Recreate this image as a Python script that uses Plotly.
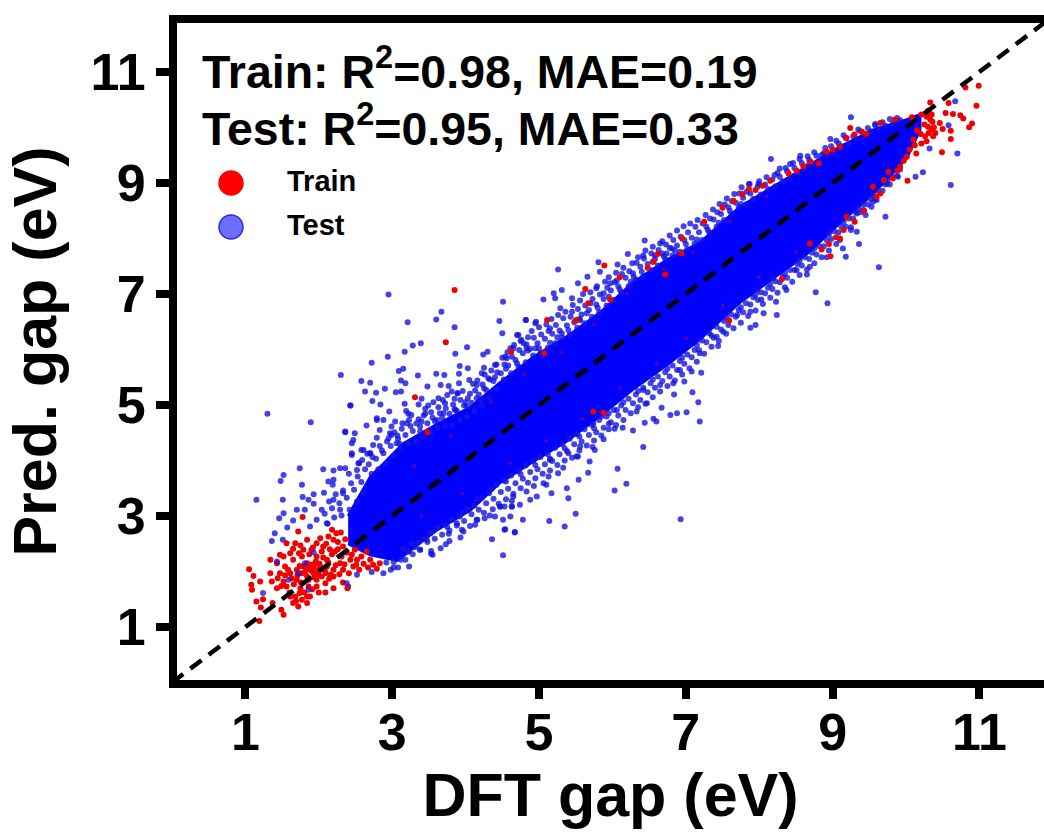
import plotly.graph_objects as go

core_x = [2.40,2.70,3.15,3.61,4.06,4.47,4.92,5.38,5.83,6.28,6.74,7.19,7.74,8.19,8.65,9.10,9.55,10.01,10.19,
          10.19,10.01,9.55,9.10,8.65,8.19,7.74,7.19,6.74,6.28,5.83,5.38,4.92,4.47,4.06,3.61,3.07,2.70,2.40]
core_y = [3.00,3.70,4.30,4.65,4.95,5.40,5.86,6.23,6.66,7.20,7.61,7.92,8.57,8.93,9.29,9.65,9.95,10.14,10.23,
          9.95,9.45,8.80,8.28,7.72,7.28,6.85,6.18,5.72,5.28,4.80,4.35,3.98,3.60,3.10,2.75,2.20,2.30,2.50]

# Individually visible outliers
test_x = [2.95,5.26,3.67,3.21,3.60,3.85,4.51,4.46,4.50,5.06,5.31,5.20,5.53,4.82,4.95,3.39,3.28,3.17,2.94,2.72,3.86,4.02,4.24,4.30,2.30,2.58,2.70,2.63,2.78,2.90,3.09,3.15,3.35,3.60,3.71,3.92,4.03,3.91,4.25,4.22,4.42,4.56,4.65,4.72,4.76,4.83,3.12,3.18,3.48,3.66,3.77,3.91,4.05,4.15,4.31,3.05,3.12,2.73,2.84,2.43,3.40,3.63,3.81,3.89,3.17,3.36,2.96,2.79,2.88,3.22,3.45,3.72,3.86,4.02,4.20,2.36,2.49,2.65,2.47,2.58,2.70,2.83,2.99,3.20,3.38,3.61,2.54,2.36,2.45,
          1.30,1.89,2.43,2.36,2.45,2.45,2.61,2.70,2.97,2.79,3.06,1.74,1.52,1.48,1.77,2.06,2.20,2.29,2.52,2.13,2.20,1.15,1.51,1.78,1.93,2.07,1.86,1.93,1.52,1.46,1.70,1.81,2.04,2.20,2.33,1.65,1.57,1.40,1.36,1.51,1.88,1.97,2.11,2.29,
          4.36,4.51,4.67,4.53,4.15,4.26,4.40,4.51,4.47,4.63,3.95,3.77,3.53,3.38,3.22,3.02,2.72,2.52,2.40,3.88,3.47,3.26,
          5.81,6.07,6.21,5.66,5.79,6.06,5.83,6.42,6.58,6.65,6.44,5.22,5.45,5.29,5.45,4.82,4.96,5.15,5.31,4.70,4.61,4.54,4.95,4.79,5.56,5.70,5.88,5.97,6.29,6.24,6.74,6.81,
          7.19,7.17,7.09,7.01,6.88,6.79,6.67,6.84,6.98,7.08,7.21,6.56,6.60,6.44,6.28,6.14,6.03,5.95,5.88,6.42,6.07,5.67,5.54,6.03,6.19,5.69,5.76,5.56,5.38,5.40,5.50,5.35,5.14,6.93,4.78,4.67,4.54,4.61,4.74,4.88,4.97,5.17,5.10,5.26,4.63,4.65,4.47,6.33,6.47,6.42,6.65,6.83,6.92,7.19,7.44,7.42,7.51,7.70,7.88,7.95,8.06,8.24,8.23,8.03,8.37,7.88,6.06,5.85,5.74,5.51,5.40,5.15,5.06,
          9.25,8.97,8.16,8.56,8.42,8.28,8.21,7.99,7.87,8.67,8.85,9.58,10.67,10.70,10.61,10.23,10.13,10.32,10.58,9.63,9.72,9.74,9.89,9.60,9.53,9.33,9.25,9.36,9.18,9.14,9.10,8.92,8.93,8.77,8.65,8.51,8.69,8.19,7.97,9.33,9.42,9.55]
test_y = [6.99,7.44,6.68,6.49,6.54,6.40,6.86,6.51,6.29,6.90,7.07,7.01,7.19,6.53,6.47,6.11,6.07,5.96,5.87,5.76,5.92,6.04,5.91,5.96,5.54,5.43,5.40,5.24,5.22,5.29,5.61,5.65,5.53,5.56,5.54,5.70,5.66,5.56,5.67,5.57,5.73,5.84,6.02,6.26,6.17,6.02,5.44,5.39,5.33,5.36,5.34,5.39,5.45,5.36,5.48,5.23,5.24,5.07,5.01,4.99,5.11,5.12,5.24,5.21,5.02,5.01,4.88,4.76,4.73,4.84,4.84,5.03,4.91,4.97,5.09,4.52,4.49,4.63,4.37,4.19,4.13,4.55,4.46,4.67,4.52,4.73,3.95,3.86,4.10,
          4.84,4.69,4.99,4.51,4.31,4.13,4.19,4.13,4.49,4.73,4.31,3.86,3.74,3.63,3.56,3.84,3.82,3.86,3.83,3.62,3.65,3.29,3.29,3.34,3.39,3.42,3.29,3.22,3.05,2.96,3.11,3.11,3.11,3.29,3.41,2.92,2.79,2.69,2.55,2.57,2.81,2.93,2.87,3.11,
          2.58,2.29,2.71,2.75,2.93,2.96,2.99,2.93,3.17,3.17,2.75,2.68,2.32,2.39,2.36,2.07,1.99,1.94,1.73,2.87,2.57,2.51,
          7.57,7.53,7.72,7.31,7.14,7.24,7.40,7.69,7.69,7.91,7.96,6.92,6.92,6.74,6.68,6.53,6.50,6.38,6.29,6.26,6.02,5.87,6.02,6.11,6.53,6.83,7.01,7.19,7.31,7.13,7.73,7.82,
          4.70,5.05,5.23,4.87,4.85,4.82,4.95,5.19,5.42,5.60,5.58,4.75,4.70,4.68,4.54,4.59,4.57,4.66,4.38,4.24,3.85,3.78,3.65,3.46,3.58,3.98,4.19,4.25,3.50,3.32,3.04,2.81,2.91,2.94,2.93,2.70,2.76,2.99,3.20,3.29,3.35,3.41,3.56,3.77,3.17,3.35,3.17,4.88,5.03,5.27,5.36,5.39,5.63,5.93,6.06,6.23,6.32,6.62,6.39,6.44,6.65,6.62,6.86,6.90,7.07,6.68,4.91,4.79,4.67,4.07,4.13,4.01,3.59,
          10.18,9.79,9.43,9.49,9.34,9.26,9.14,8.98,8.98,9.32,9.50,10.04,10.47,9.53,8.96,9.19,9.11,9.62,10.04,7.48,8.39,8.99,9.11,8.69,8.57,8.12,8.20,7.90,7.67,7.82,7.97,7.66,6.83,7.03,7.35,7.43,7.49,7.28,7.07,8.45,8.51,8.66]

# Estimated points of the crowded halo just above the core
halo_upper = [(2.12,2.86),(2.08,3.04),(2.14,3.26),(2.21,2.97),(2.18,3.14),(2.23,3.39),(2.19,3.56),(2.31,3.01),(2.28,3.23),(2.33,3.46),(2.42,3.11),(2.38,3.33),(2.44,3.59),(2.41,3.76),(2.52,3.26),(2.48,3.47),(2.53,3.71),(2.61,3.43),(2.58,3.61),(2.63,3.84),(2.59,4.01),(2.72,3.76),(2.68,3.93),(2.73,4.06),(2.81,3.84),(2.78,4.03),(2.83,4.26),(2.79,4.41),(2.92,3.94),(2.88,4.13),(2.93,4.34),(3.02,4.09),(2.98,4.26),(3.03,4.51),(2.99,4.61),(3.12,4.21),(3.08,4.39),(3.13,4.57),(3.22,4.31),(3.18,4.46),(3.23,4.73),(3.19,4.89),(3.32,4.34),(3.28,4.53),(3.33,4.67),(3.42,4.43),(3.38,4.61),(3.43,4.81),(3.52,4.49),(3.48,4.67),(3.53,4.87),(3.49,4.99),(3.62,4.59),(3.58,4.71),(3.63,4.96),(3.72,4.61),(3.68,4.77),(3.73,4.94),(3.69,5.09),(3.82,4.64),(3.78,4.84),(3.83,5.01),(3.92,4.73),(3.88,4.89),(3.93,5.09),(3.89,5.21),(4.02,4.79),(3.98,4.99),(4.03,5.12),(4.12,4.89),(4.08,5.04),(4.13,5.26),(4.22,4.99),(4.18,5.19),(4.23,5.37),(4.32,5.13),(4.28,5.27),(4.33,5.46),(4.42,5.29),(4.38,5.43),(4.43,5.59),(4.52,5.46),(4.48,5.57),(4.53,5.73),(4.62,5.57),(4.58,5.71),(4.63,5.87),(4.72,5.69),(4.68,5.81),(4.73,5.99),(4.82,5.77),(4.78,5.93),(4.83,6.09),(4.92,5.89),(4.88,6.01),(4.93,6.21),(5.02,5.94),(4.98,6.11),(5.03,6.27),(5.12,6.03),(5.08,6.19),(5.13,6.33),(5.22,6.11),(5.18,6.28),(5.23,6.44),(5.32,6.21),(5.28,6.34),(5.33,6.56),(5.42,6.27),(5.38,6.43),(5.43,6.59),(5.52,6.39),(5.48,6.49),(5.53,6.73),(5.62,6.47),(5.58,6.63),(5.63,6.79),(5.72,6.59),(5.68,6.71),(5.73,6.91),(5.82,6.67),(5.78,6.81),(5.83,6.99),(5.92,6.79),(5.88,6.91),(5.93,7.11),(6.02,6.89),(5.98,7.06),(6.03,7.21),(6.12,7.03),(6.08,7.14),(6.13,7.36),(6.22,7.14),(6.18,7.29),(6.23,7.41),(6.32,7.26),(6.28,7.37),(6.33,7.56),(6.42,7.31),(6.38,7.49),(6.43,7.64),(6.52,7.43),(6.48,7.54),(6.53,7.73),(6.62,7.51),(6.58,7.63),(6.63,7.79),(6.72,7.63),(6.68,7.73),(6.73,7.89),(6.82,7.69),(6.78,7.83),(6.83,7.97),(6.92,7.76),(6.88,7.87),(6.93,8.03),(7.02,7.81),(6.98,7.97),(7.03,8.11),(7.12,7.91),(7.08,8.01),(7.13,8.21),(7.22,7.97),(7.18,8.11),(7.23,8.27),(7.32,8.11),(7.28,8.21),(7.33,8.36),(7.42,8.21),(7.38,8.34),(7.43,8.47),(7.52,8.33),(7.48,8.44),(7.53,8.61),(7.62,8.44),(7.58,8.56),(7.63,8.67),(7.72,8.56),(7.68,8.64),(7.73,8.81),(7.82,8.61),(7.78,8.73),(7.83,8.84),(7.92,8.71),(7.88,8.81),(8.02,8.79),(7.98,8.93),(8.12,8.89),(8.08,8.97),(8.22,8.94),(8.18,9.06),(8.32,9.03),(8.28,9.11),(8.42,9.09),(8.38,9.21),(8.52,9.19),(8.48,9.27),(8.62,9.24),(8.58,9.36),(8.72,9.33),(8.68,9.41),(8.82,9.39),(8.78,9.49),(8.92,9.49),(8.88,9.54),(9.02,9.54),(8.98,9.66),(9.12,9.66),(9.08,9.71),(9.22,9.71),(9.18,9.81),(9.32,9.79),(9.28,9.84),(9.42,9.84),(9.38,9.93),(9.52,9.93),(9.48,9.99),(9.62,9.97),(9.58,10.06),(9.72,10.03),(9.68,10.09),(9.82,10.07),(9.78,10.15),(9.92,10.13),(9.88,10.17)]

# Estimated outer and in-between points above the core
halo_upper_outer = [(2.55,3.95),(2.66,4.12),(2.74,4.28),(2.86,4.18),(2.95,4.40),(3.04,4.70),(3.14,4.67),(3.07,4.45),(3.26,4.82),(3.36,4.74),(3.45,4.93),(3.56,5.05),(3.65,4.85),(3.75,5.18),(3.85,5.11),(3.96,5.25),(4.06,5.20),(4.10,5.38),(4.16,5.44),(4.26,5.55),(4.35,5.62),(4.40,5.72),(4.50,5.85),(4.57,5.95),(4.66,6.08),(4.75,6.15),(4.85,6.22),(4.90,6.33),(5.00,6.40),(5.10,6.45),(5.17,6.55),(5.26,6.62),(5.36,6.68),(5.46,6.80),(5.56,6.88),(5.60,7.00),(5.70,7.03),(5.78,7.10),(5.90,7.22),(5.95,7.30),(6.05,7.38),(6.15,7.47),(6.27,7.55),(6.35,7.66),(6.45,7.78),(6.55,7.85),(6.68,7.95),(6.78,8.05),(6.88,8.14),(6.97,8.22),(7.06,8.27),(7.16,8.33),(7.27,8.42),(7.37,8.52),(7.46,8.62),(7.56,8.72),(7.66,8.80),(7.76,8.92),(7.86,8.98),(8.00,9.03),(8.10,9.10),(8.25,9.18),(8.36,9.27),(8.46,9.36),(8.55,9.43),(8.66,9.48),(8.75,9.55),(8.90,9.63),(9.05,9.76),(9.15,9.86),(9.35,9.96),
                    (3.10,4.30),(3.25,4.62),(3.40,4.70),(3.55,4.77),(3.70,4.85),(3.85,4.92),(4.00,5.05),(4.15,5.12),(4.25,5.30),(4.40,5.50),(4.55,5.65),(4.70,5.75),(4.85,5.98),(5.00,6.02),(5.15,6.12),(5.25,6.22),(5.40,6.35),(5.55,6.55),(5.65,6.65),(5.80,6.75),(5.95,6.95),(6.10,7.08),(6.25,7.22),(6.40,7.40),(6.55,7.58),(6.70,7.68),(6.85,7.78),(7.00,7.90),(7.15,7.98),(7.30,8.15),(7.45,8.28),(7.60,8.50),(7.75,8.62)]

# Estimated points of the crowded halo just below the core
halo_lower = [(2.92,2.16),(2.88,1.97),(3.02,2.17),(2.98,2.03),(3.12,2.21),(3.08,2.07),(3.22,2.36),(3.18,2.21),(3.23,2.09),(3.32,2.44),(3.28,2.31),(3.42,2.59),(3.38,2.39),(3.52,2.69),(3.48,2.53),(3.53,2.37),(3.62,2.79),(3.58,2.59),(3.72,2.84),(3.68,2.66),(3.73,2.49),(3.82,2.93),(3.78,2.74),(3.92,2.99),(3.88,2.83),(3.93,2.61),(4.02,3.13),(3.98,2.91),(4.12,3.19),(4.08,3.03),(4.13,2.84),(4.22,3.33),(4.18,3.11),(4.32,3.41),(4.28,3.23),(4.33,3.01),(4.42,3.56),(4.38,3.31),(4.52,3.64),(4.48,3.43),(4.53,3.17),(4.62,3.73),(4.58,3.49),(4.63,3.27),(4.72,3.81),(4.68,3.59),(4.82,3.91),(4.78,3.67),(4.83,3.44),(4.92,3.99),(4.88,3.79),(4.93,3.54),(5.02,4.06),(4.98,3.84),(5.12,4.11),(5.08,3.93),(5.13,3.71),(5.22,4.23),(5.18,3.99),(5.32,4.29),(5.28,4.11),(5.33,3.87),(5.42,4.39),(5.38,4.17),(5.52,4.47),(5.48,4.29),(5.53,4.07),(5.62,4.56),(5.58,4.34),(5.72,4.64),(5.68,4.46),(5.73,4.24),(5.82,4.73),(5.78,4.51),(5.92,4.79),(5.88,4.59),(6.02,4.91),(5.98,4.69),(6.12,4.99),(6.08,4.81),(6.22,5.11),(6.18,4.91),(6.32,5.19),(6.28,5.03),(6.42,5.31),(6.38,5.09),(6.52,5.39),(6.48,5.23),(6.62,5.51),(6.58,5.31),(6.72,5.59),(6.68,5.43),(6.82,5.71),(6.78,5.51),(6.92,5.79),(6.88,5.63),(7.02,5.91),(6.98,5.74),(7.12,5.99),(7.08,5.86),(7.22,6.16),(7.18,5.99),(7.32,6.29),(7.28,6.13),(7.42,6.41),(7.38,6.21),(7.52,6.51),(7.48,6.36),(7.62,6.63),(7.58,6.44),(7.72,6.71),(7.68,6.59),(7.82,6.83),(7.78,6.67),(7.92,6.94),(7.88,6.81),(8.02,7.03),(7.98,6.89),(8.12,7.11),(8.08,7.01),(8.22,7.23),(8.18,7.09),(8.32,7.31),(8.28,7.21),(8.42,7.43),(8.38,7.29),(8.52,7.54),(8.48,7.43),(8.62,7.66),(8.58,7.51),(8.72,7.74),(8.68,7.63),(8.82,7.86),(8.78,7.71),(8.92,7.97),(8.88,7.86),(9.02,8.13),(8.98,7.99),(9.12,8.21),(9.08,8.11),(9.22,8.36),(9.18,8.21),(9.32,8.47),(9.28,8.36),(9.42,8.61),(9.38,8.47),(9.52,8.71),(9.48,8.61),(9.62,8.86),(9.58,8.71),(9.72,8.97),(9.68,8.86),(9.82,9.11),(9.78,8.97),(9.92,9.24),(9.88,9.13)]

# Estimated outer and in-between points below the core
halo_lower_outer = [(3.55,2.30),(3.66,2.42),(3.78,2.55),(3.97,2.72),(4.06,2.82),(4.16,2.93),(4.25,3.06),(4.37,3.12),(4.45,3.22),(4.55,3.30),(4.65,3.40),(4.75,3.50),(4.85,3.60),(4.95,3.68),(5.05,3.76),(5.15,3.82),(5.25,3.92),(5.35,4.00),(5.45,4.05),(5.55,4.18),(5.65,4.27),(5.75,4.36),(5.85,4.45),(5.95,4.56),(6.05,4.64),(6.15,4.73),(6.25,4.85),(6.35,4.96),(6.45,5.02),(6.55,5.14),(6.65,5.24),(6.75,5.34),(6.85,5.44),(6.95,5.55),(7.05,5.66),(7.15,5.78),(7.25,5.92),(7.35,6.05),(7.45,6.15),(7.55,6.28),(7.65,6.38),(7.75,6.48),(7.85,6.60),(7.95,6.70),(8.05,6.82),(8.15,6.93),(8.25,7.02),(8.35,7.12),(8.45,7.22),(8.55,7.34),(8.65,7.44),(8.75,7.55),(8.85,7.66),(8.95,7.78),(9.05,7.90),(9.25,8.15),(9.45,8.42),
                    (3.15,2.40),(3.35,2.52),(3.55,2.72),(3.75,2.80),(3.95,3.05),(4.15,3.30),(4.35,3.48),(4.55,3.62),(4.75,3.75),(4.95,3.92),(5.15,4.03),(5.35,4.22),(5.55,4.43),(5.75,4.58),(5.95,4.85),(6.15,5.05),(6.35,5.25),(6.55,5.46),(6.75,5.65),(6.95,5.85),(7.15,6.08),(7.35,6.25),(7.55,6.58),(7.75,6.76),(7.95,6.98),(8.15,7.18),(8.35,7.37),(8.55,7.60),(8.75,7.82),(8.95,8.08),(9.15,8.30),(9.35,8.55),(9.55,8.78),(9.75,9.05)]

# Test points that sit on top of the red low-gap cluster
cluster_test = [(1.93,2.34),(1.81,2.15),(1.72,1.97),(1.59,1.85),(1.24,1.61),(1.86,1.67),(1.43,2.18),(2.38,1.79)]

train_x = [1.05,1.11,1.20,1.08,1.09,1.15,1.24,1.21,1.19,1.37,1.49,1.52,1.34,1.47,1.43,1.34,1.36,1.43,1.56,1.68,1.72,1.78,1.54,1.65,1.77,1.61,1.70,1.84,1.93,1.97,1.90,2.06,2.20,2.18,2.02,2.11,2.22,2.31,2.43,2.58,2.70,2.83,2.47,2.33,2.20,2.09,1.97,1.86,1.74,1.61,1.65,1.72,1.84,1.88,2.09,2.20,2.39,2.33,
           1.79,1.88,1.95,1.99,1.84,1.93,1.70,2.02,2.11,1.52,1.56,1.47,1.79,1.61,1.52,1.97,1.84,2.13,2.24,2.33,2.49,2.65,2.52,2.29,1.77,1.84,1.77,1.68,1.97,2.09,2.20,
           3.85,3.73,3.31,3.48,5.11,5.50,5.89,5.63,6.48,6.56,7.59,5.97,5.67,5.51,4.62,5.07,5.74,5.88,6.72,6.94,
           10.99,10.81,10.96,10.33,10.58,10.54,10.64,10.74,10.78,10.90,10.86,10.46,10.50,10.61,10.61,10.49,10.02,9.82,10.14,10.21,10.37,10.33,10.30,10.35,10.28,10.35,10.21,10.40,10.26,10.10,10.01,9.92,9.24,9.19,8.92,7.77,7.86,8.15,8.51,8.81,9.10,9.46,9.85,10.08,8.31,8.95,8.97,9.10,9.19,9.55,9.65,8.69,9.76]
train_y = [2.04,1.92,1.82,1.76,1.67,1.46,1.50,1.35,1.11,1.43,1.31,1.22,2.21,2.30,2.15,1.97,1.82,1.70,2.51,2.51,2.72,2.98,2.09,2.21,2.27,1.97,2.03,2.15,2.09,2.27,2.39,2.45,2.57,2.75,2.60,2.21,2.36,2.27,2.21,2.27,2.21,2.15,2.09,2.03,1.91,1.97,1.85,1.73,1.61,1.55,1.43,1.37,1.43,1.55,1.62,1.70,1.70,1.80,
           2.09,2.03,2.15,2.03,1.91,1.97,1.85,2.09,2.09,1.82,1.73,1.97,2.39,2.33,2.27,2.51,2.57,2.63,2.69,2.45,2.39,2.36,2.21,2.15,1.97,1.55,1.49,1.55,1.73,1.79,2.03,
           7.07,6.13,5.14,4.51,6.53,6.52,7.51,7.09,7.47,7.58,6.52,6.90,6.83,6.53,5.96,5.93,4.88,4.86,7.35,7.73,
           10.75,10.72,10.39,10.45,10.44,10.26,10.24,10.22,10.16,10.07,10.00,10.08,9.97,9.94,9.79,9.55,9.04,9.08,9.53,9.71,9.84,10.14,10.01,9.96,10.19,10.23,10.23,9.90,9.84,9.78,9.47,9.29,9.99,9.81,9.56,8.80,8.89,9.04,9.22,9.35,9.65,9.88,10.14,10.18,7.27,7.90,7.68,8.00,8.39,8.93,8.81,7.91,9.20]

# Estimated extra train points: crowded low-gap cluster, and the tail and edges near the top
train_extra = [(1.44,1.88),(1.49,1.74),(1.54,1.93),(1.58,2.03),(1.63,1.88),(1.66,1.77),(1.71,1.93),(1.74,2.10),(1.76,1.80),(1.81,1.98),(1.83,2.06),(1.86,1.85),(1.89,2.12),(1.91,2.01),(1.94,1.89),(1.96,2.18),(1.99,1.95),(2.01,2.14),(2.04,1.91),(2.06,2.25),(2.08,2.02),(2.13,2.16),(2.16,1.94),(2.18,2.31),(2.23,2.11),(2.26,2.40),(2.28,1.95),(2.35,2.13),(2.38,2.34),(2.41,1.97),(2.45,2.30),(2.51,2.12),(2.55,2.03),(2.61,2.14),(2.67,2.07),(2.74,2.12),(2.79,2.05),(1.60,1.62),(1.69,1.47),(1.75,1.70),(1.80,1.62),(1.91,1.68),(2.00,1.62),(2.14,1.87),(1.73,2.33),(1.87,2.31),(1.92,2.43),(2.04,2.36),(2.10,2.50),(2.15,2.40),(1.65,2.41),(1.75,2.47),(2.26,2.53),(2.36,2.58),(2.30,2.70),
               (10.30,10.30),(10.33,10.24),(10.36,10.10),(10.31,9.90),(10.25,10.05),(10.38,10.00),(10.20,9.88),(10.15,9.95),(10.28,9.75),(10.12,9.68),(10.05,9.60),(9.97,9.40),(9.88,9.22),(9.70,9.05),(9.60,8.75),(9.43,8.50),(9.30,8.30),(9.05,8.02),(8.85,7.80),(9.15,8.15),
               (9.65,10.08),(9.40,9.92),(9.30,9.87),(9.00,9.60),(8.70,9.38),(8.60,9.30),(8.40,9.17),(8.05,8.95),(7.95,8.87),(7.65,8.68),(7.50,8.55),(7.25,8.30),(6.95,8.00),(6.62,7.72),(6.10,7.30)]

# Faint train points showing through the core
train_faint = [(3.30,3.90),(3.80,4.45),(4.35,5.05),(4.80,5.55),(5.30,5.95),(5.75,6.45),(6.20,7.00),(6.70,7.45),(7.10,7.75),(7.60,8.30),(8.10,8.75),(3.40,3.00),(3.95,3.40),(4.60,3.95),(5.10,4.35),(5.60,4.75),(6.10,5.30),(6.60,5.75),(7.00,6.20),(7.50,6.80),(8.00,7.30),(8.50,7.75)]

tick_values = [1, 3, 5, 7, 9, 11]
stats_lines = ["Train: R<sup>2</sup>=0.98, MAE=0.19", "Test: R<sup>2</sup>=0.95, MAE=0.33"]
series_names = ["Train", "Test"]

FONT = "Liberation Sans"
fig = go.Figure()
fig.add_trace(go.Scatter(x=core_x, y=core_y, mode="lines", fill="toself", fillcolor="#0000ff", name="Test core",
                         line=dict(color="#0000ff", width=3), showlegend=False, hoverinfo="skip"))
all_test = list(zip(test_x, test_y)) + halo_upper + halo_upper_outer + halo_lower + halo_lower_outer
fig.add_trace(go.Scatter(x=[p[0] for p in all_test], y=[p[1] for p in all_test], mode="markers", name="Test", showlegend=False,
                         marker=dict(size=6, color="rgba(20,20,225,0.8)")))
fig.add_trace(go.Scatter(x=[p[0] for p in train_faint], y=[p[1] for p in train_faint], mode="markers", name="Train", showlegend=False,
                         marker=dict(size=4, color="rgba(220,0,60,0.4)")))
fig.add_trace(go.Scatter(x=train_x + [p[0] for p in train_extra], y=train_y + [p[1] for p in train_extra],
                         mode="markers", name="Train", showlegend=False,
                         marker=dict(size=6, color="#f00000")))
fig.add_trace(go.Scatter(x=[p[0] for p in cluster_test], y=[p[1] for p in cluster_test], mode="markers", name="Test", showlegend=False,
                         marker=dict(size=6, color="rgba(60,20,200,0.8)")))
fig.add_trace(go.Scatter(x=[0, 12], y=[0, 12], mode="lines", showlegend=False,
                         line=dict(color="black", width=4.5, dash="14px,9px")))

axis_common = dict(tickmode="array", tickvals=tick_values, ticktext=[str(t) for t in tick_values],
                   ticks="outside", tickwidth=8, tickcolor="black", showgrid=False, zeroline=False,
                   showline=True, linecolor="black", linewidth=8,
                   tickfont=dict(family=FONT, size=52, color="black", weight="bold"))
fig.update_xaxes(range=[0.068, 11.88], ticklen=11, mirror=True, ticklabelstandoff=-11, **axis_common,
                 title=dict(text="DFT gap (eV)", standoff=16, font=dict(family=FONT, size=61, color="black", weight="bold")))
fig.update_yaxes(range=[0.045, 11.88], ticklen=13, **axis_common,
                 title=dict(text="Pred. gap (eV)", standoff=17, font=dict(family=FONT, size=61, color="black", weight="bold")))

annos = []
for text, ypx in zip(stats_lines, [68, 125]):
    annos.append(dict(text=text, xref="paper", yref="paper", x=(200-177)/867, y=(680-ypx)/657, xanchor="left", yanchor="middle",
                      showarrow=False, font=dict(family=FONT, size=46.5, color="black", weight="bold")))
for text, ypx in zip(series_names, [181, 225]):
    annos.append(dict(text=text, xref="paper", yref="paper", x=(285-177)/867, y=(680-ypx)/657, xanchor="left", yanchor="middle",
                      showarrow=False, font=dict(family=FONT, size=29, color="black", weight="bold")))
shapes = []
for fillc, linec, ypx in zip(["#ff0000", "rgba(60,60,255,0.75)"], ["#ff0000", "rgba(30,30,230,0.9)"], [183, 227]):
    shapes.append(dict(type="circle", xref="paper", yref="paper",
                       x0=(219-177)/867, x1=(243-177)/867, y0=(680-ypx-12)/657, y1=(680-ypx+12)/657,
                       fillcolor=fillc, line=dict(color=linec, width=1.5)))

fig.update_layout(width=1044, height=835, margin=dict(l=177, r=0, t=23, b=155, autoexpand=False),
                  paper_bgcolor="white", plot_bgcolor="white", annotations=annos, shapes=shapes,
                  font=dict(family=FONT))
fig.write_html("out.html", config={"displayModeBar": False},
               post_script="document.body.style.margin='0';document.body.style.overflow='hidden';")
